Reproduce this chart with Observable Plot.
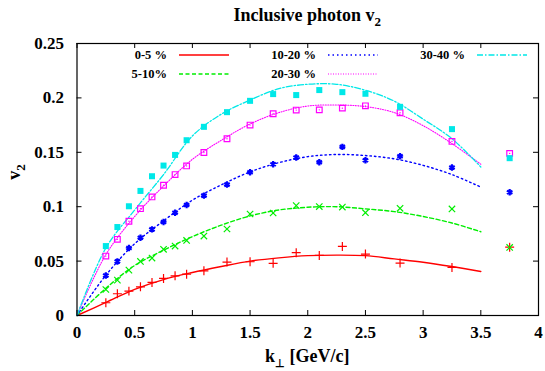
<!DOCTYPE html>
<html>
<head>
<meta charset="utf-8">
<script src="https://cdn.jsdelivr.net/npm/d3@7"></script>
<script src="https://cdn.jsdelivr.net/npm/@observablehq/plot@0.6"></script>
<style>
  html, body { margin: 0; padding: 0; background: white; }
</style>
</head>
<body>
<div id="chart"></div>
<script>
// ---- data ----
const seriesNames = ["0-5 %", "5-10%", "10-20 %", "20-30 %", "30-40 %"];
const kPoints = [0.25, 0.35, 0.45, 0.55, 0.65, 0.75, 0.85, 0.95, 1.1, 1.3, 1.5, 1.7, 1.9, 2.1, 2.3, 2.5, 2.8, 3.25, 3.75];
const v2_0_5   = [0.0117, 0.020, 0.0224, 0.0264, 0.0304, 0.0341, 0.0365, 0.038, 0.0411, 0.0491, 0.0494, 0.0479, 0.0577, 0.0552, 0.0635, 0.0565, 0.0482, 0.0442, 0.0628];
const v2_5_10  = [0.0239, 0.0325, 0.0417, 0.0497, 0.0528, 0.0608, 0.0638, 0.069, 0.073, 0.0795, 0.0933, 0.0942, 0.101, 0.1001, 0.0997, 0.0945, 0.0985, 0.0979, 0.0626];
const v2_10_20 = [0.0368, 0.0497, 0.062, 0.0715, 0.0792, 0.0859, 0.0945, 0.1016, 0.1102, 0.1203, 0.1317, 0.139, 0.1452, 0.1409, 0.155, 0.1427, 0.1464, 0.136, 0.1133];
const v2_20_30 = [0.0546, 0.070, 0.0866, 0.0982, 0.109, 0.1197, 0.1295, 0.1375, 0.1498, 0.1624, 0.175, 0.1854, 0.1888, 0.189, 0.1906, 0.1927, 0.1863, 0.160, 0.149];
const v2_30_40 = [0.0638, 0.0813, 0.1004, 0.1145, 0.128, 0.1378, 0.1476, 0.1611, 0.1734, 0.1869, 0.1973, 0.2035, 0.2026, 0.2072, 0.2053, 0.2038, 0.1918, 0.1713, 0.1446];

const kCurve = [0, 0.25, 0.5, 0.75, 1.0, 1.25, 1.5, 1.75, 2.0, 2.25, 2.5, 2.75, 3.0, 3.25, 3.5];
const fit_0_5   = [0, 0.012, 0.024, 0.033, 0.0395, 0.045, 0.050, 0.053, 0.055, 0.0555, 0.055, 0.052, 0.049, 0.045, 0.0405];
const fit_5_10  = [0, 0.025, 0.046, 0.060, 0.0725, 0.083, 0.0915, 0.097, 0.0995, 0.100, 0.098, 0.0955, 0.091, 0.085, 0.077];
const fit_10_20 = [0, 0.037, 0.066, 0.087, 0.106, 0.120, 0.132, 0.1405, 0.146, 0.148, 0.147, 0.144, 0.138, 0.1295, 0.118];
const fit_20_30 = [0, 0.056, 0.091, 0.119, 0.1435, 0.161, 0.176, 0.1865, 0.1925, 0.1935, 0.192, 0.1865, 0.1745, 0.158, 0.139];
const fit_30_40 = [0, 0.062, 0.097, 0.1295, 0.165, 0.185, 0.198, 0.2085, 0.2125, 0.2125, 0.207, 0.197, 0.1805, 0.1625, 0.1365];

const xTicks = [0, 0.5, 1, 1.5, 2, 2.5, 3, 3.5, 4];
const xTickLabels = ["0", "0.5", "1", "1.5", "2", "2.5", "3", "3.5", "4"];
const yTicks = [0, 0.05, 0.1, 0.15, 0.2, 0.25];
const yTickLabels = ["0", "0.05", "0.1", "0.15", "0.2", "0.25"];

// ---- styles ----
const pointSets = [v2_0_5, v2_5_10, v2_10_20, v2_20_30, v2_30_40];
const fitSets = [fit_0_5, fit_5_10, fit_10_20, fit_20_30, fit_30_40];
const styles = [
  {color: "#ff0000", dash: null,        width: 1.4, symbol: "plus",     fill: "none"},
  {color: "#00ee00", dash: "4,2.5",     width: 1.4, symbol: "times",    fill: "none"},
  {color: "#0000ff", dash: "1.5,3",     width: 1.4, symbol: "asterisk", fill: "none"},
  {color: "#ff00ff", dash: "1,1.5",     width: 1.1, symbol: "square",   fill: "none"},
  {color: "#00e8e8", dash: "6,2,1.5,2", width: 1.3, symbol: "square",   fill: "#00e8e8"}
];

const W = 545, H = 371;
const mL = 76.5, mR = 7, mT = 43, mB = 56;
const innerW = W - mL - mR, innerH = H - mT - mB;
const font = "'Liberation Serif', 'Times New Roman', serif";

const marks = [];
// curves
fitSets.forEach((fit, i) => {
  const rows = kCurve.map((k, j) => ({k, v: fit[j]}));
  marks.push(Plot.line(rows, {
    x: "k", y: "v", stroke: styles[i].color, strokeWidth: styles[i].width,
    strokeDasharray: styles[i].dash, curve: "catmull-rom"
  }));
});
// points
pointSets.forEach((vals, i) => {
  const rows = kPoints.map((k, j) => ({k, v: vals[j]}));
  const s = styles[i];
  if (s.fill !== "none") {
    marks.push(Plot.dot(rows, {x: "k", y: "v", symbol: s.symbol, r: 3.4, fill: s.fill, stroke: "none"}));
  } else {
    marks.push(Plot.dot(rows, {x: "k", y: "v", symbol: s.symbol, r: s.symbol === "square" ? 3.2 : 3.0,
      stroke: s.color, strokeWidth: s.symbol === "asterisk" ? 2.2 : 1.2, fill: "none"}));
    if (s.symbol === "square") {
      marks.push(Plot.dot(rows, {x: "k", y: "v", r: 0.7, fill: s.color, stroke: "none"}));
    }
  }
});

const chart = Plot.plot({
  width: W, height: H,
  marginLeft: mL, marginRight: mR, marginTop: mT, marginBottom: mB,
  style: {fontFamily: font, background: "white", overflow: "visible"},
  x: {domain: [0, 4]},
  y: {domain: [0, 0.25]},
  marks: [
    // inward ticks on all four sides
    Plot.tickX(xTicks, {x: d => d, insetTop: innerH - 5, stroke: "black"}),
    Plot.tickX(xTicks, {x: d => d, insetBottom: innerH - 5, stroke: "black"}),
    Plot.tickY(yTicks, {y: d => d, insetRight: innerW - 5, stroke: "black"}),
    Plot.tickY(yTicks, {y: d => d, insetLeft: innerW - 5, stroke: "black"}),
    Plot.axisX(xTicks, {tickSize: 0, tickPadding: 10, fontSize: 17, fontWeight: "bold", fill: "black", label: null,
      tickFormat: d => xTickLabels[xTicks.indexOf(d)]}),
    Plot.axisY(yTicks, {tickSize: 0, tickPadding: 13, fontSize: 17, fontWeight: "bold", fill: "black", label: null,
      tickFormat: d => yTickLabels[yTicks.indexOf(d)]}),
    ...marks,
    Plot.frame({stroke: "black", strokeWidth: 1.2})
  ]
});
document.getElementById("chart").appendChild(chart);

// ---- titles and legend ----
const svg = d3.select(chart);
const cx = mL + innerW / 2;

const title = svg.append("text").attr("x", cx).attr("y", 21).attr("text-anchor", "middle")
  .attr("font-family", font).attr("font-weight", "bold").attr("font-size", 18).attr("fill", "black");
title.append("tspan").text("Inclusive photon v");
title.append("tspan").attr("font-size", 13).attr("dy", 5).text("2");

const xl = svg.append("text").attr("x", cx).attr("y", 362).attr("text-anchor", "middle")
  .attr("font-family", font).attr("font-weight", "bold").attr("font-size", 18).attr("fill", "black");
xl.append("tspan").text("k");
xl.append("tspan").attr("font-size", 11).attr("dy", 5).text("⊥");
xl.append("tspan").attr("dy", -5).text(" [GeV/c]");

const yl = svg.append("text").attr("transform", "translate(20,172) rotate(-90)").attr("text-anchor", "middle")
  .attr("font-family", font).attr("font-weight", "bold").attr("font-size", 18).attr("fill", "black");
yl.append("tspan").text("v");
yl.append("tspan").attr("font-size", 13).attr("dy", 5).text("2");

const legendPos = [
  {tx: 167, y: 55}, {tx: 167, y: 74},
  {tx: 316, y: 55}, {tx: 316, y: 74},
  {tx: 465, y: 55}
];
const lg = svg.append("g");
seriesNames.forEach((name, i) => {
  const p = legendPos[i], s = styles[i];
  lg.append("text").attr("x", p.tx).attr("y", p.y + 4).attr("text-anchor", "end")
    .attr("font-family", font).attr("font-weight", "bold").attr("font-size", 12.5).attr("fill", "black")
    .text(name);
  lg.append("line").attr("x1", p.tx + 12).attr("x2", p.tx + 62).attr("y1", p.y).attr("y2", p.y)
    .attr("stroke", s.color).attr("stroke-width", s.width)
    .attr("stroke-dasharray", s.dash);
});
</script>
</body>
</html>
